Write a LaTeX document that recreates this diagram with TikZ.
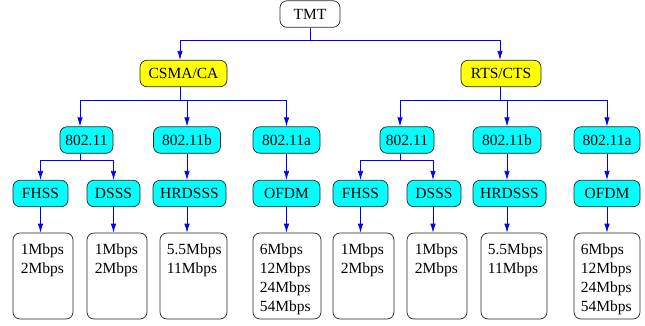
\documentclass[tikz,border=0pt]{standalone}
\usepackage{fontspec}
\setmainfont{Liberation Serif}
\newfontfamily\labelfont{Liberation Serif}
\usetikzlibrary{arrows.meta}
\definecolor{macyellow}{RGB}{255,255,0}
\definecolor{phycyan}{RGB}{0,255,255}
\definecolor{linkblue}{RGB}{0,0,255}

\tikzset{
  box/.style={draw=black!85,line width=0.7pt,rounded corners=7pt,minimum height=26.5pt,inner sep=0pt,font=\labelfont\fontsize{15.5}{19}\selectfont},
  mac/.style={box,fill=macyellow},
  phy/.style={box,fill=phycyan},
  rate/.style={draw=black!85,line width=0.7pt,rounded corners=7pt,minimum height=86pt,inner sep=0pt},
  ratetext/.style={anchor=north west,inner sep=0pt,align=left,font=\labelfont\fontsize{15.5}{19}\selectfont},
  link/.style={linkblue,line width=0.8pt,-{Latex[length=9pt,width=5.5pt]}}
}

\begin{document}
\begin{tikzpicture}[x=1pt,y=-1pt]
\useasboundingbox (0,0) rectangle (645,325);

\node[box,minimum width=60] (tmt) at (310,14) {TMT};

\node[mac,minimum width=87] (csma) at (183.5,73.5) {CSMA/CA};
\node[mac,minimum width=80] (rts) at (501,73.5) {RTS/CTS};

\node[phy,minimum width=53] (la) at (86.5,140) {802.11};
\node[phy,minimum width=67] (lb) at (187,140) {802.11b};
\node[phy,minimum width=67] (lc) at (286.5,140) {802.11a};
\node[phy,minimum width=54] (ra) at (407,140) {802.11};
\node[phy,minimum width=68] (rb) at (507,140) {802.11b};
\node[phy,minimum width=66] (rc) at (607,140) {802.11a};

\node[phy,minimum width=55] (lfh) at (40.5,193.5) {FHSS};
\node[phy,minimum width=53] (lds) at (113.5,193.5) {DSSS};
\node[phy,minimum width=73] (lhr) at (189.5,193.5) {HRDSSS};
\node[phy,minimum width=67] (lof) at (286.5,193.5) {OFDM};
\node[phy,minimum width=55] (rfh) at (360.5,193.5) {FHSS};
\node[phy,minimum width=54] (rds) at (434,193.5) {DSSS};
\node[phy,minimum width=73] (rhr) at (509.5,193.5) {HRDSSS};
\node[phy,minimum width=66] (rof) at (607,193.5) {OFDM};

\node[rate,minimum width=60] (lr1) at (43,276) {};
\node[rate,minimum width=60] (lr2) at (117,276) {};
\node[rate,minimum width=67] (lr3) at (193.5,276) {};
\node[rate,minimum width=68] (lr4) at (287,276) {};
\node[rate,minimum width=61] (rr1) at (363.5,276) {};
\node[rate,minimum width=60] (rr2) at (437,276) {};
\node[rate,minimum width=66] (rr3) at (514,276) {};
\node[rate,minimum width=66] (rr4) at (607,276) {};

\node[ratetext] (lt1) at ([shift={(8,11)}]lr1.north west) {1Mbps\\2Mbps};
\node[ratetext] (lt2) at ([shift={(8,11)}]lr2.north west) {1Mbps\\2Mbps};
\node[ratetext] (lt3) at ([shift={(7,11)}]lr3.north west) {5.5Mbps\\11Mbps};
\node[ratetext] (lt4) at ([shift={(7,11)}]lr4.north west) {6Mbps\\12Mbps\\24Mbps\\54Mbps};
\node[ratetext] (rt1) at ([shift={(8,11)}]rr1.north west) {1Mbps\\2Mbps};
\node[ratetext] (rt2) at ([shift={(8,11)}]rr2.north west) {1Mbps\\2Mbps};
\node[ratetext] (rt3) at ([shift={(7,11)}]rr3.north west) {5.5Mbps\\11Mbps};
\node[ratetext] (rt4) at ([shift={(7,11)}]rr4.north west) {6Mbps\\12Mbps\\24Mbps\\54Mbps};

\draw[link] (tmt.south) -- ++(0,13) -| ([xshift=-3.5]csma.north);
\draw[link] (tmt.south) -- ++(0,13) -| ([xshift=-1]rts.north);

\draw[link] ([xshift=-3.5]csma.south) -- ++(0,13) -| ([xshift=-6.5]la.north);
\draw[link] ([xshift=-3.5]csma.south) -- ++(0,13) -| (lb.north);
\draw[link] ([xshift=-3.5]csma.south) -- ++(0,13) -| (lc.north);
\draw[link] ([xshift=-1]rts.south) -- ++(0,13) -| ([xshift=-7]ra.north);
\draw[link] ([xshift=-1]rts.south) -- ++(0,13) -| (rb.north);
\draw[link] ([xshift=-1]rts.south) -- ++(0,13) -| (rc.north);

\draw[link] ([xshift=-6.5]la.south) -- ++(0,7) -| (lfh.north);
\draw[link] ([xshift=-6.5]la.south) -- ++(0,7) -| (lds.north);
\draw[link] (lb.south) -- (lb.south |- lhr.north);
\draw[link] (lc.south) -- (lc.south |- lof.north);
\draw[link] ([xshift=-7]ra.south) -- ++(0,7) -| (rfh.north);
\draw[link] ([xshift=-7]ra.south) -- ++(0,7) -| ([xshift=-1]rds.north);
\draw[link] (rb.south) -- (rb.south |- rhr.north);
\draw[link] (rc.south) -- (rc.south |- rof.north);

\draw[link] (lfh.south) -- (lfh.south |- lr1.north);
\draw[link] (lds.south) -- (lds.south |- lr2.north);
\draw[link] ([xshift=-2.5]lhr.south) -- ([xshift=-2.5]lhr.south |- lr3.north);
\draw[link] (lof.south) -- (lof.south |- lr4.north);
\draw[link] (rfh.south) -- (rfh.south |- rr1.north);
\draw[link] ([xshift=-1]rds.south) -- ([xshift=-1]rds.south |- rr2.north);
\draw[link] ([xshift=-2.5]rhr.south) -- ([xshift=-2.5]rhr.south |- rr3.north);
\draw[link] (rof.south) -- (rof.south |- rr4.north);
\end{tikzpicture}
\end{document}
